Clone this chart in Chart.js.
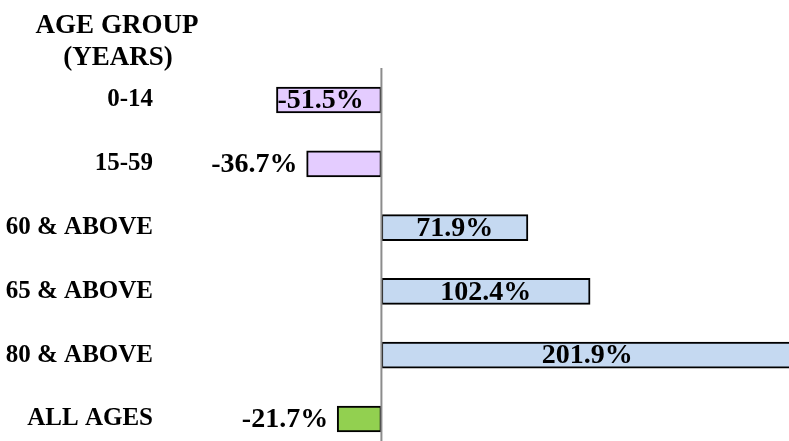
<!DOCTYPE html>
<html>
<head>
<meta charset="utf-8">
<script src="https://cdn.jsdelivr.net/npm/chart.js@4/dist/chart.umd.min.js"></script>
<style>
  html, body { margin: 0; padding: 0; background: #fff; }
  #wrap { width: 789px; height: 441px; position: relative; }
</style>
</head>
<body>
<div id="wrap"><canvas id="chartCanvas"></canvas></div>
<script>
// ==========================================
// Data
// ==========================================
const categories = ["0-14", "15-59", "60 & ABOVE", "65 & ABOVE", "80 & ABOVE", "ALL AGES"];
const changePct = [-51.5, -36.7, 71.9, 102.4, 201.9, -21.7];
const headerLines = ["AGE GROUP", "(YEARS)"];

// bar fills (styles, not data)
const barColors = ["#E4CCFF", "#E4CCFF", "#C5D9F1", "#C5D9F1", "#C5D9F1", "#92D050"];

const SERIF = "'Liberation Serif', 'Times New Roman', serif";

// ==========================================
// Plugins: zero line, value labels, header
// ==========================================
const valueLabels = {
    id: "valueLabels",
    afterDatasetsDraw(chart) {
        const ctx = chart.ctx;
        const meta = chart.getDatasetMeta(0);
        const x0 = chart.scales.x.getPixelForValue(0);

        ctx.save();
        // zero line
        ctx.strokeStyle = "#8c8c8c";
        ctx.lineWidth = 2;
        ctx.beginPath();
        ctx.moveTo(x0, chart.chartArea.top - 32);
        ctx.lineTo(x0, chart.height);
        ctx.stroke();

        ctx.font = "bold 28px " + SERIF;
        ctx.fillStyle = "#000";
        ctx.textBaseline = "middle";
        meta.data.forEach((bar, i) => {
            const v = changePct[i];
            const txt = v.toFixed(1) + "%";
            const w = ctx.measureText(txt).width;
            const left = Math.min(bar.x, bar.base);
            const right = Math.max(bar.x, bar.base);
            const y = bar.y + 1;
            if (w + 4 <= right - left) {
                if (v < 0) {
                    ctx.textAlign = "left";
                    ctx.fillText(txt, left + 1, y);
                } else {
                    ctx.textAlign = "center";
                    ctx.fillText(txt, (left + right) / 2, y);
                }
            } else {
                ctx.textAlign = "right";
                ctx.fillText(txt, left - 9, y);
            }
        });
        ctx.restore();
    },
    afterDraw(chart) {
        const ctx = chart.ctx;
        ctx.save();
        ctx.font = "bold 27px " + SERIF;
        ctx.fillStyle = "#000";
        ctx.textAlign = "center";
        ctx.textBaseline = "alphabetic";
        ctx.fillText(headerLines[0], 117, 33);
        ctx.fillText(headerLines[1], 118, 65);
        ctx.restore();
    }
};

// ==========================================
// Chart
// ==========================================
const ctx = document.getElementById("chartCanvas").getContext("2d");

const chart = new Chart(ctx, {
    type: "bar",
    data: {
        labels: categories,
        datasets: [{
            data: changePct,
            backgroundColor: barColors,
            borderColor: "#000",
            borderWidth: 2,
            borderSkipped: false,
            barThickness: 26,
            clip: false
        }]
    },
    options: {
        indexAxis: "y",
        responsive: true,
        maintainAspectRatio: false,
        animation: false,
        layout: { padding: { top: 100, bottom: 22, left: 0, right: 0 } },
        plugins: {
            legend: { display: false },
            tooltip: { enabled: false }
        },
        scales: {
            x: {
                display: false,
                min: -90,
                max: 200
            },
            y: {
                offset: false,
                grid: { display: false, drawTicks: false },
                border: { display: false },
                ticks: {
                    autoSkip: false,
                    padding: 45,
                    color: "#000",
                    font: { family: SERIF, size: 25, weight: "bold" }
                },
                afterFit(scale) {
                    scale.width = 198;
                    // tick padding is for horizontal spacing only here
                    scale.paddingTop = 0;
                    scale.paddingBottom = 0;
                }
            }
        }
    },
    plugins: [valueLabels]
});
</script>
</body>
</html>
